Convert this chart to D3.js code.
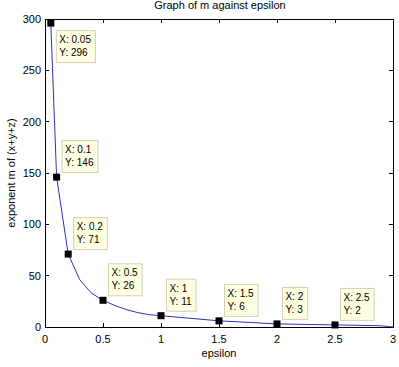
<!DOCTYPE html>
<html><head><meta charset="utf-8">
<script src="https://cdn.jsdelivr.net/npm/d3@7"></script>
<style>body{margin:0;background:#fff}svg{display:block}text{font-family:"Liberation Sans",Arial,sans-serif}</style>
</head><body>
<script>
// curve data (epsilon, m)
const epsilonValues = [0.05, 0.1, 0.2, 0.3, 0.4, 0.5, 0.6, 0.7, 0.8, 0.9, 1.0, 1.5, 2.0, 2.5, 2.9, 3.0];
const mValues       = [296, 146, 71, 46, 33, 26, 21, 17, 14, 12, 11, 6, 3, 2, 1.2, 0];
// data tips
const tipX = [0.05, 0.1, 0.2, 0.5, 1, 1.5, 2, 2.5];
const tipY = [296, 146, 71, 26, 11, 6, 3, 2];
const xTicks = [0, 0.5, 1, 1.5, 2, 2.5, 3];
const yTicks = [0, 50, 100, 150, 200, 250, 300];
const titleText = "Graph of m against epsilon";
const xLabel = "epsilon";
const yLabel = "exponent m of (x+y+z)";

const W = 399, H = 367;
const L = 45, R = 393, T = 19, B = 327;
const svg = d3.select("body").append("svg").attr("width", W).attr("height", H);
const x = d3.scaleLinear().domain([0, 3]).range([L, R]);
const y = d3.scaleLinear().domain([0, 300]).range([B, T]);

// frame
svg.append("rect").attr("x", L).attr("y", T).attr("width", R - L).attr("height", B - T)
  .attr("fill", "#fff").attr("stroke", "#000").attr("stroke-width", 1).attr("shape-rendering", "crispEdges");

const tk = 4;
const ax = svg.append("g").attr("shape-rendering", "crispEdges").attr("stroke", "#000");
xTicks.forEach(v => {
  ax.append("line").attr("x1", x(v)).attr("x2", x(v)).attr("y1", B).attr("y2", B - tk);
  ax.append("line").attr("x1", x(v)).attr("x2", x(v)).attr("y1", T).attr("y2", T + tk);
});
yTicks.forEach(v => {
  ax.append("line").attr("x1", L).attr("x2", L + tk).attr("y1", y(v)).attr("y2", y(v));
  ax.append("line").attr("x1", R).attr("x2", R - tk).attr("y1", y(v)).attr("y2", y(v));
});
svg.append("g").selectAll("text").data(xTicks).join("text")
  .attr("x", d => x(d)).attr("y", B + 16).attr("text-anchor", "middle")
  .attr("font-size", 11).attr("fill", "#000").text(d => d);
svg.append("g").selectAll("text").data(yTicks).join("text")
  .attr("x", L - 4).attr("y", d => y(d) + 4).attr("text-anchor", "end")
  .attr("font-size", 11).attr("fill", "#000").text(d => d);

svg.append("text").attr("x", (L + R) / 2 + 1).attr("y", 9).attr("text-anchor", "middle")
  .attr("font-size", 11).text(titleText);
svg.append("text").attr("x", (L + R) / 2).attr("y", 357).attr("text-anchor", "middle")
  .attr("font-size", 11).text(xLabel);
svg.append("text").attr("transform", `translate(15,${(T + B) / 2}) rotate(-90)`)
  .attr("text-anchor", "middle").attr("font-size", 11).text(yLabel);

// line
const pts = epsilonValues.map((e, i) => [e, mValues[i]]);
svg.append("path").datum(pts)
  .attr("d", d3.line().x(d => x(d[0])).y(d => y(d[1])))
  .attr("fill", "none").attr("stroke", "#3030c0").attr("stroke-width", 1);

// markers and tips
const tips = tipX.map((e, i) => ({ e, m: tipY[i] }));
const g = svg.append("g");
tips.forEach((d, i) => {
  const px = x(d.e), py = y(d.m);
  const lines = ["X: " + d.e, "Y: " + d.m];
  const tg = g.append("g");
  const t = tg.append("text").attr("font-size", 10).attr("fill", "#000");
  lines.forEach((s, j) => t.append("tspan").attr("x", 0).attr("dy", j ? 13 : 0).text(s));
  const bw = t.node().getBBox().width + 7;
  const bh = 32;
  const bx = px + 5;
  const by = i === 0 ? py + 7 : py - 37;
  tg.insert("rect", "text").attr("x", bx + 0.5).attr("y", by + 0.5).attr("width", bw).attr("height", bh)
    .attr("fill", "#ffffe1").attr("stroke", "#d0d0bc").attr("stroke-width", 1);
  t.attr("transform", `translate(${bx + 3.5},${by + 13})`);
  g.append("rect").attr("x", px - 3.5).attr("y", py - 3.5).attr("width", 7).attr("height", 7)
    .attr("fill", "#000");
});
</script>
</body></html>
